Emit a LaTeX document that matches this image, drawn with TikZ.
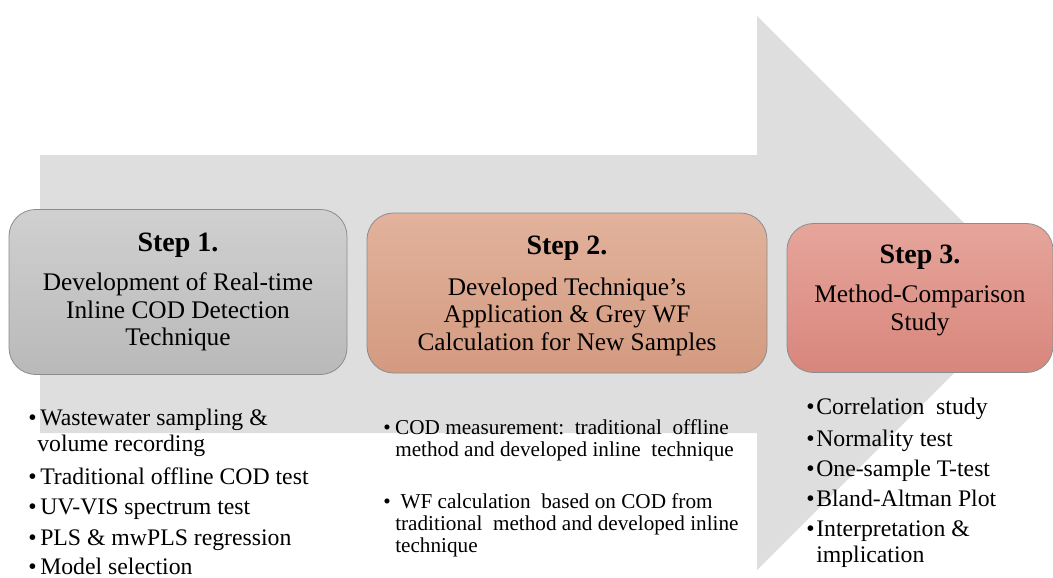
\documentclass[tikz,border=0pt]{standalone}
\usepackage{fontspec}
\setmainfont{Liberation Serif}
\usetikzlibrary{shapes}
\definecolor{arrowgrey}{HTML}{DEDEDE}
\definecolor{greytop}{HTML}{D0D0D0}
\definecolor{greybot}{HTML}{B9B9B9}
\definecolor{peachtop}{HTML}{E2B29C}
\definecolor{peachbot}{HTML}{D39A80}
\definecolor{rosetop}{HTML}{E6A59B}
\definecolor{rosebot}{HTML}{D8867C}
\newcommand{\headfont}{\fontsize{21}{22}\selectfont\bfseries}
\newcommand{\boxfont}{\fontsize{19}{20.6}\selectfont}
\newcommand{\listfont}{\fontsize{17.8}{19.5}\selectfont}
\newcommand{\smalllistfont}{\fontsize{15.9}{16.5}\selectfont}
\newcommand{\bul}{\makebox[9pt][l]{\textbullet}}
\tikzset{
  stepbox/.style={rounded corners=20pt, draw=black!45, line width=0.6pt,
    inner sep=0pt},
  steptext/.style={align=center, inner sep=0pt, font=\boxfont},
  steplist/.style={anchor=north west, align=left, inner sep=0pt}
}

\begin{document}
\begin{tikzpicture}[x=0.75pt, y=-0.75pt]

\useasboundingbox (0,0) rectangle (1053,578);

%% big arrow behind the steps
\fill[arrowgrey] (40,155) -- (757,155) -- (757,16) -- (1034,293)
  -- (757,570) -- (757,433) -- (40,433) -- cycle;

%% the three steps
\node[stepbox, top color=greytop, bottom color=greybot,
  minimum width=338*0.75pt, minimum height=165*0.75pt] (step1) at (178,292) {};
\node[steptext] (step1text) at ([yshift=0pt]step1)
  {{\headfont Step 1.}\\[9pt]Development of Real-time\\Inline COD Detection\\Technique};

\node[stepbox, top color=peachtop, bottom color=peachbot,
  minimum width=400*0.75pt, minimum height=160*0.75pt] (step2) at (567,293) {};
\node[steptext] (step2text) at ([yshift=-2pt]step2)
  {{\headfont Step 2.}\\[10pt]Developed Technique's\\Application \& Grey WF\\Calculation for New Samples};

\node[stepbox, top color=rosetop, bottom color=rosebot,
  minimum width=266*0.75pt, minimum height=149*0.75pt] (step3) at (920,298) {};
\node[steptext] (step3text) at ([yshift=6pt]step3)
  {{\headfont Step 3.}\\[9pt]Method-Comparison\\Study};

%% what each step covers
\node[steplist, font=\listfont] (list1) at (28,409)
  {\bul Wastewater sampling \&\\
   \hspace{6.75pt}volume recording\\[5pt]
   \bul Traditional offline COD test\\[3pt]
   \bul UV-VIS spectrum test\\[3.5pt]
   \bul PLS \& mwPLS regression\\[2.5pt]
   \bul Model selection};
\node[steplist, font=\smalllistfont] (list2) at (383,419)
  {\bul COD measurement:\ \ traditional\ \ offline\\
   \hspace{9pt}method and developed inline\ \ technique\\[23pt]
   \bul\ WF calculation\ \ based on COD from\\
   \hspace{9pt}traditional\ \ method and developed inline\\
   \hspace{9pt}technique};
\node[steplist, font=\listfont] (list3) at (806,398)
  {\makebox[7.5pt][l]{\textbullet}Correlation\ \ study\\[4pt]
   \makebox[7.5pt][l]{\textbullet}Normality test\\[3pt]
   \makebox[7.5pt][l]{\textbullet}One-sample T-test\\[3pt]
   \makebox[7.5pt][l]{\textbullet}Bland-Altman Plot\\[3pt]
   \makebox[7.5pt][l]{\textbullet}Interpretation \&\\
   \hspace{7.5pt}implication};

\end{tikzpicture}
\end{document}
